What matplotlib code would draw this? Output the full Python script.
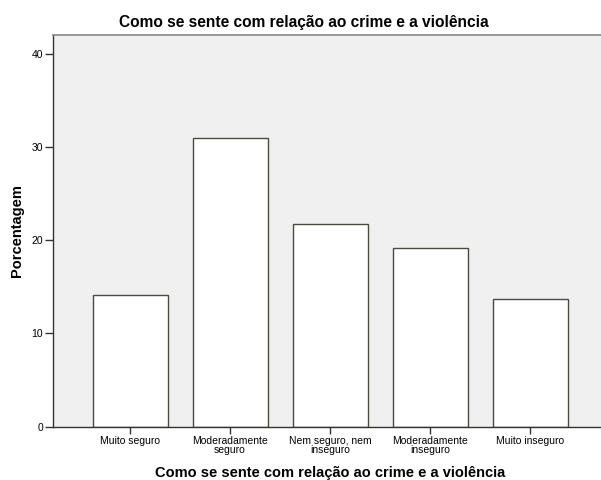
import matplotlib
matplotlib.use('Agg')
import matplotlib.pyplot as plt
import numpy as np

categories = ['Muito seguro', 'Moderadamente\nseguro', 'Nem seguro, nem\ninseguro',
              'Moderadamente\ninseguro', 'Muito inseguro']
percent = [14.1, 31.0, 21.7, 19.2, 13.7]
yticks = [0, 10, 20, 30, 40]

plt.rcParams['font.family'] = ['Liberation Sans', 'DejaVu Sans']

fig = plt.figure(figsize=(6.01, 4.80), dpi=100)
ax = fig.add_axes([53/601, 1 - 426.7/480, 1 - 53/601, (426.7 - 35)/480])
ax.set_facecolor('#f0f0f0')

x = np.arange(len(categories))
ax.bar(x, percent, width=0.75, color='white', edgecolor='#4a4a3e', linewidth=1.0, zorder=2)

ax.set_xlim(-0.77, 4.71)
ax.set_ylim(0, 42)
ax.set_yticks(yticks)
ax.set_xticks(x, categories, fontsize=7.5, linespacing=0.85)
ax.tick_params(axis='y', labelsize=7.5, length=6, width=1, color='#333333', pad=1)
ax.tick_params(axis='x', length=5, width=1, color='#333333', pad=2)

for side in ['left', 'bottom']:
    ax.spines[side].set_color('#333333')
    ax.spines[side].set_linewidth(1.0)
ax.spines['top'].set_color('#888888')
ax.spines['top'].set_linewidth(1.2)
ax.spines['right'].set_visible(False)

fig.text(17.5/601, 1 - 231/480, 'Porcentagem', fontsize=10.5, fontweight='bold',
         rotation=90, ha='center', va='center')
fig.text(330/601, 1 - 473/480, 'Como se sente com relação ao crime e a violência',
         fontsize=10.5, fontweight='bold', ha='center', va='center')
fig.text(304/601, 0.953, 'Como se sente com relação ao crime e a violência', fontsize=11.2,
         fontweight='bold', ha='center', va='center')

fig.savefig('out.png', dpi=100)
